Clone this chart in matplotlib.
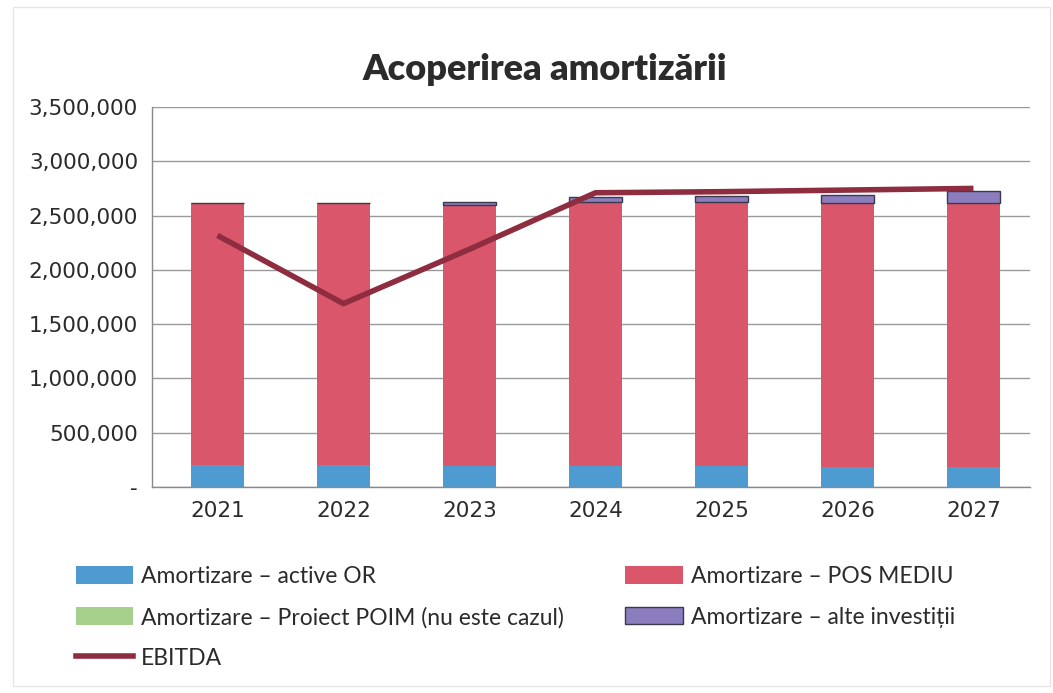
import matplotlib
matplotlib.use("Agg")
import matplotlib.pyplot as plt
import numpy as np
from matplotlib.ticker import FuncFormatter
from matplotlib.patches import Patch
from matplotlib.lines import Line2D

years = ["2021", "2022", "2023", "2024", "2025", "2026", "2027"]
amort_active_or = [205000, 198000, 193000, 192000, 190000, 186000, 182000]
amort_pos_mediu = [2412000, 2418000, 2405000, 2430000, 2433000, 2431000, 2432000]
amort_poim = [0, 0, 0, 0, 0, 0, 0]
amort_alte = [0, 0, 30000, 52000, 55000, 70000, 108000]
ebitda = [2317000, 1689000, 2190000, 2710000, 2720000, 2735000, 2750000]

title = "Acoperirea amortizării"
labels = ["Amortizare – active OR", "Amortizare – POS MEDIU",
          "Amortizare – Proiect POIM (nu este cazul)",
          "Amortizare – alte investiții", "EBITDA"]

c_blue = "#4E9BD1"
c_red = "#D9566B"
c_green = "#A8D08D"
c_purple = "#8C7DBE"
c_line = "#8E2C40"
txt = "#2b2b2b"

fig = plt.figure(figsize=(10.53, 6.93), dpi=100)
ax = fig.add_axes([0.1443, 0.2973, 0.834, 0.5483])

x = np.arange(len(years))
w = 0.42
b1 = np.array(amort_active_or)
b2 = b1 + np.array(amort_pos_mediu)
b3 = b2 + np.array(amort_poim)

ax.bar(x, amort_active_or, w, color=c_blue, zorder=2)
ax.bar(x, amort_pos_mediu, w, bottom=b1, color=c_red, zorder=2)
ax.bar(x, amort_poim, w, bottom=b2, color=c_green, zorder=2)
ax.bar(x, amort_alte, w, bottom=b3, color=c_purple,
       edgecolor="#3a3a4a", linewidth=1.0, zorder=2)
ax.plot(x, ebitda, color=c_line, linewidth=4, zorder=3, solid_capstyle="butt")

ax.set_xlim(-0.52, 6.45)
ax.set_ylim(0, 3500000)
ax.set_yticks(np.arange(0, 3500001, 500000))
ax.yaxis.set_major_formatter(FuncFormatter(lambda v, p: "-" if v == 0 else f"{int(v):,}"))
ax.set_xticks(x)
ax.set_xticklabels(years)
ax.tick_params(axis="both", length=0, labelsize=15.5, colors=txt)
ax.tick_params(axis="y", pad=10)
ax.tick_params(axis="x", pad=10)

ax.grid(axis="y", color="#9a9a9a", linewidth=1.0, zorder=0)
for s in ["top", "right"]:
    ax.spines[s].set_visible(False)
for s in ["left", "bottom"]:
    ax.spines[s].set_color("#8a8a8a")
    ax.spines[s].set_linewidth(1.0)

fig.text(0.5176, 0.899, title, ha="center", va="center", fontsize=26,
         fontweight="heavy", family="Lato", color=txt)

# faint chart border from the scan
border = plt.Rectangle((0.012, 0.01), 0.985, 0.98, transform=fig.transFigure,
                       fill=False, edgecolor="#e6e6e6", linewidth=1.0)
fig.patches.append(border)

h_blue = Patch(facecolor=c_blue)
h_red = Patch(facecolor=c_red)
h_green = Patch(facecolor=c_green)
h_purple = Patch(facecolor=c_purple, edgecolor="#3a3a4a", linewidth=1.0)
h_line = Line2D([0], [0], color=c_line, linewidth=4)

leg_kw = dict(frameon=False, prop={"family": "Lato", "size": 16.5},
              labelcolor=txt, handlelength=2.5, handleheight=0.8,
              handletextpad=0.35, labelspacing=0.85, borderpad=0,
              borderaxespad=0, loc="upper left")
fig.legend([h_blue, h_green, h_line], [labels[0], labels[2], labels[4]],
           bbox_to_anchor=(0.072, 0.183), **leg_kw)
fig.legend([h_red, h_purple], [labels[1], labels[3]],
           bbox_to_anchor=(0.594, 0.183), **leg_kw)

fig.savefig("out.png", dpi=100, facecolor="white")
